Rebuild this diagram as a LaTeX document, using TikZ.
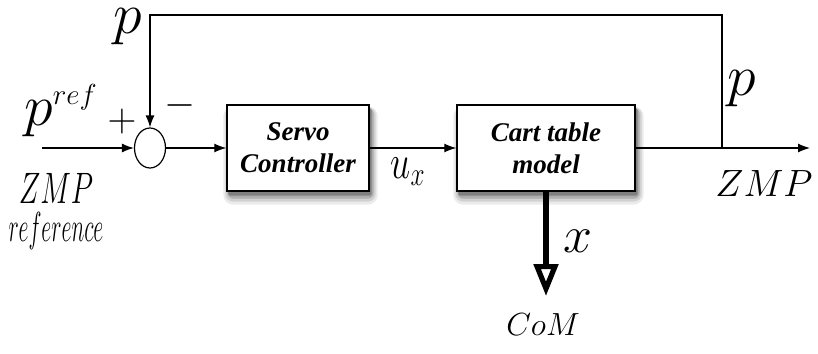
\RequirePackage{fix-cm}
\documentclass[tikz,border=0pt]{standalone}
\usepackage[no-math]{fontspec}
\newfontfamily\boxfont{Liberation Serif}
\usepackage{amsmath}
\usetikzlibrary{shapes.geometric,arrows.meta,backgrounds}
\tikzstyle{arrow} = [line width=0.6pt,-{Latex[length=6pt,width=4.5pt]}]
\tikzstyle{block} = [draw,line width=0.7pt,fill=white,rectangle,minimum width=71pt,minimum height=43pt,align=center,font=\boxfont\bfseries\itshape\fontsize{13.5}{16}\selectfont]
\tikzstyle{sumnode} = [draw,line width=0.6pt,ellipse,minimum width=15.5pt,minimum height=20pt,inner sep=0pt]
\tikzstyle{lbl} = [anchor=base,inner sep=0pt]

\begin{document}
\begin{tikzpicture}[x=0.5pt,y=0.5pt,yscale=-1,xscale=1]
\useasboundingbox (0,0) rectangle (818,353);

%Shape: Summing junction
\node [sumnode] (sum) at (150,148) {};
%Shape: Blocks
\node [block] (servo) at (298,148) {Servo\\Controller};
\node [block,minimum width=89pt] (cart) at (546,148) {Cart table\\model};

%Shadows under the blocks
\begin{scope}[on background layer]
\foreach \b in {servo,cart}{
  \fill [black!8,rounded corners=5pt] ([shift={(-3,2)}]\b.north west) rectangle ([shift={(8,13)}]\b.south east);
  \fill [black!18,rounded corners=4pt] ([shift={(-1,3)}]\b.north west) rectangle ([shift={(6,10)}]\b.south east);
  \fill [black!32,rounded corners=3pt] ([shift={(1,4)}]\b.north west) rectangle ([shift={(4,7)}]\b.south east);
  \fill [black!50,rounded corners=1pt] ([shift={(2,4)}]\b.north west) rectangle ([shift={(2,4)}]\b.south east);
}
\end{scope}

%Free ends
\coordinate (in) at (42,148);
\coordinate (out) at (810,148);
\coordinate (tap) at (722,148);
\coordinate (fbtop) at (150,15);
\coordinate (com) at (546,296);

%Straight Lines
\draw [arrow] (in) -- (sum);
\draw [arrow] (sum) -- (servo);
\draw [arrow] (servo) -- (cart);
\draw [arrow] (cart) -- (out);
\draw [arrow] (tap) -- (tap |- fbtop) -- (fbtop) -- (sum.north);
\draw [line width=2.6pt,-{Triangle[open,length=16pt,width=12pt]}] (cart.south) -- (com);

% Text Node
\node [lbl,font=\fontsize{29}{30}\selectfont] (ptop) at (128,34) {$p$};
% Text Node
\node [anchor=base west,inner sep=0pt,font=\fontsize{29}{30}\selectfont] (pref) at (24,126) {$p^{\scriptscriptstyle ref}$};
% Text Node
\node [font=\fontsize{20}{20}\selectfont] (plus) at (122,122) {$+$};
% Text Node
\node [font=\fontsize{20}{20}\selectfont] (minus) at (180,106) {$-$};
% Text Node
\node [lbl,font=\fontsize{22}{22}\selectfont,xscale=0.66] (zmpin) at (56,203) {$ZMP$};
% Text Node
\node [lbl,font=\fontsize{21}{21}\selectfont,xscale=0.52] (refin) at (56,241) {$reference$};
% Text Node
\node [lbl,font=\fontsize{24}{24}\selectfont,xscale=0.75] (ux) at (408,178) {$u_x$};
% Text Node
\node [lbl,font=\fontsize{29}{30}\selectfont] (pright) at (742,96) {$p$};
% Text Node
\node [lbl,font=\fontsize{19}{19}\selectfont] (zmpout) at (764,196) {$ZMP$};
% Text Node
\node [lbl,font=\fontsize{26}{26}\selectfont] (xlab) at (578,252) {$x$};
% Text Node
\node [lbl,font=\fontsize{16}{16}\selectfont] (comlab) at (543,335) {$CoM$};

\end{tikzpicture}
\end{document}
